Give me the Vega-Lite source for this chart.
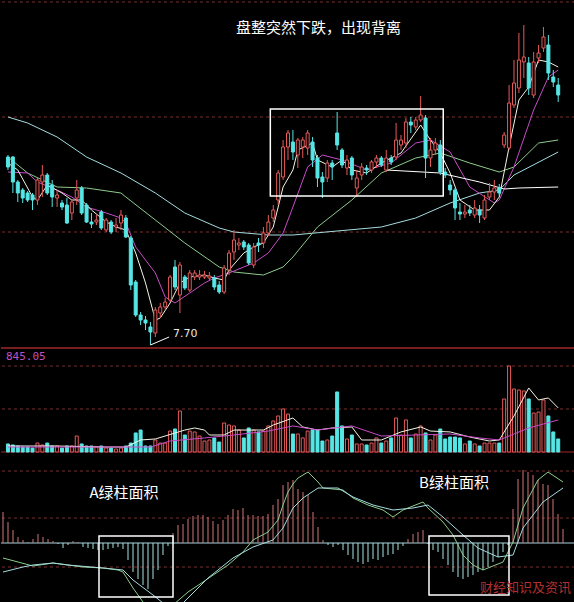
{
"$schema": "https://vega.github.io/schema/vega-lite/v6.json",
"background": "#000000",
"padding": 0,
"spacing": 0,
"bounds": "flush",
"config": {"view": {"stroke": null}, "font": "Noto Sans CJK SC"},
"datasets": {
"k": [
{"i":0,"o":11.46,"c":11.26,"h":11.50,"l":11.20,"v":79,"m":0.31},
{"i":1,"o":11.46,"c":10.96,"h":11.48,"l":10.74,"v":69,"m":0.21},
{"i":2,"o":10.96,"c":10.74,"h":11.00,"l":10.56,"v":59,"m":0.13},
{"i":3,"o":10.80,"c":10.64,"h":10.84,"l":10.54,"v":49,"m":0.06},
{"i":4,"o":10.74,"c":10.60,"h":10.78,"l":10.56,"v":49,"m":0.03},
{"i":5,"o":10.70,"c":10.60,"h":10.74,"l":10.40,"v":39,"m":0.01},
{"i":6,"o":10.60,"c":11.00,"h":11.04,"l":10.50,"v":88,"m":0.04},
{"i":7,"o":10.96,"c":11.10,"h":11.30,"l":10.66,"v":69,"m":0.09},
{"i":8,"o":11.10,"c":10.74,"h":11.14,"l":10.70,"v":88,"m":0.06},
{"i":9,"o":10.90,"c":10.66,"h":11.00,"l":10.46,"v":59,"m":0.04},
{"i":10,"o":10.64,"c":10.70,"h":10.80,"l":10.46,"v":59,"m":0.02},
{"i":11,"o":10.54,"c":10.46,"h":10.60,"l":10.40,"v":39,"m":-0.01},
{"i":12,"o":10.50,"c":10.14,"h":10.64,"l":10.12,"v":59,"m":-0.05},
{"i":13,"o":10.34,"c":10.56,"h":10.60,"l":10.20,"v":59,"m":-0.02},
{"i":14,"o":10.64,"c":10.80,"h":11.00,"l":10.50,"v":157,"m":0.02},
{"i":15,"o":10.84,"c":10.34,"h":10.88,"l":10.30,"v":79,"m":0.01},
{"i":16,"o":10.50,"c":10.16,"h":10.54,"l":10.14,"v":59,"m":-0.04},
{"i":17,"o":10.16,"c":10.12,"h":10.34,"l":10.04,"v":59,"m":-0.05},
{"i":18,"o":10.16,"c":10.20,"h":10.30,"l":10.10,"v":49,"m":-0.06},
{"i":19,"o":10.36,"c":10.04,"h":10.40,"l":10.00,"v":59,"m":-0.07},
{"i":20,"o":10.00,"c":10.20,"h":10.24,"l":9.96,"v":39,"m":-0.07},
{"i":21,"o":10.16,"c":9.96,"h":10.20,"l":9.92,"v":39,"m":-0.06},
{"i":22,"o":10.06,"c":10.10,"h":10.24,"l":9.96,"v":29,"m":-0.05},
{"i":23,"o":10.14,"c":10.30,"h":10.40,"l":10.00,"v":39,"m":-0.04},
{"i":24,"o":10.24,"c":9.86,"h":10.30,"l":9.84,"v":59,"m":-0.06},
{"i":25,"o":9.84,"c":8.90,"h":9.88,"l":8.80,"v":88,"m":-0.17},
{"i":26,"o":8.96,"c":8.30,"h":9.00,"l":8.26,"v":187,"m":-0.29},
{"i":27,"o":8.30,"c":8.20,"h":8.36,"l":8.10,"v":216,"m":-0.36},
{"i":28,"o":8.20,"c":8.14,"h":8.28,"l":8.00,"v":59,"m":-0.42},
{"i":29,"o":8.06,"c":7.96,"h":8.16,"l":7.70,"v":59,"m":-0.46},
{"i":30,"o":7.94,"c":8.40,"h":8.46,"l":7.86,"v":118,"m":-0.36},
{"i":31,"o":8.34,"c":8.46,"h":8.54,"l":8.24,"v":88,"m":-0.27},
{"i":32,"o":8.46,"c":8.56,"h":8.64,"l":8.40,"v":88,"m":-0.12},
{"i":33,"o":8.60,"c":9.06,"h":9.10,"l":8.56,"v":206,"m":-0.03},
{"i":34,"o":9.26,"c":8.86,"h":9.40,"l":8.80,"v":226,"m":0.10},
{"i":35,"o":8.70,"c":9.30,"h":9.36,"l":8.34,"v":403,"m":0.18},
{"i":36,"o":9.06,"c":8.84,"h":9.10,"l":8.80,"v":167,"m":0.19},
{"i":37,"o":8.80,"c":9.14,"h":9.20,"l":8.76,"v":206,"m":0.24},
{"i":38,"o":9.06,"c":9.14,"h":9.20,"l":9.00,"v":197,"m":0.27},
{"i":39,"o":9.06,"c":9.10,"h":9.20,"l":9.00,"v":157,"m":0.28},
{"i":40,"o":9.06,"c":9.10,"h":9.18,"l":9.02,"v":108,"m":0.28},
{"i":41,"o":9.04,"c":9.08,"h":9.16,"l":9.00,"v":118,"m":0.26},
{"i":42,"o":9.04,"c":8.86,"h":9.10,"l":8.80,"v":138,"m":0.22},
{"i":43,"o":8.90,"c":8.76,"h":8.98,"l":8.72,"v":98,"m":0.19},
{"i":44,"o":8.76,"c":9.24,"h":9.30,"l":8.72,"v":285,"m":0.23},
{"i":45,"o":9.20,"c":9.54,"h":9.60,"l":9.10,"v":265,"m":0.28},
{"i":46,"o":9.56,"c":9.80,"h":10.00,"l":9.40,"v":256,"m":0.34},
{"i":47,"o":9.70,"c":9.74,"h":9.84,"l":9.60,"v":216,"m":0.33},
{"i":48,"o":9.76,"c":9.66,"h":9.80,"l":9.60,"v":138,"m":0.35},
{"i":49,"o":9.70,"c":9.34,"h":9.74,"l":9.30,"v":236,"m":0.28},
{"i":50,"o":9.30,"c":9.66,"h":9.74,"l":9.24,"v":216,"m":0.28},
{"i":51,"o":9.74,"c":9.70,"h":9.84,"l":9.56,"v":197,"m":0.27},
{"i":52,"o":9.74,"c":9.94,"h":10.06,"l":9.64,"v":206,"m":0.27},
{"i":53,"o":9.94,"c":10.16,"h":10.30,"l":9.88,"v":256,"m":0.29},
{"i":54,"o":10.24,"c":10.40,"h":10.50,"l":10.16,"v":305,"m":0.38},
{"i":55,"o":10.60,"c":11.14,"h":11.20,"l":10.50,"v":354,"m":0.44},
{"i":56,"o":11.06,"c":11.66,"h":11.80,"l":11.00,"v":423,"m":0.58},
{"i":57,"o":11.66,"c":11.94,"h":12.00,"l":11.40,"v":373,"m":0.61},
{"i":58,"o":11.76,"c":11.56,"h":12.00,"l":11.40,"v":177,"m":0.63},
{"i":59,"o":11.50,"c":11.80,"h":11.84,"l":11.24,"v":177,"m":0.54},
{"i":60,"o":11.66,"c":11.80,"h":11.86,"l":11.44,"v":138,"m":0.51},
{"i":61,"o":11.64,"c":11.94,"h":12.00,"l":11.50,"v":206,"m":0.48},
{"i":62,"o":11.76,"c":11.40,"h":11.86,"l":11.26,"v":216,"m":0.31},
{"i":63,"o":11.44,"c":11.04,"h":11.50,"l":10.86,"v":216,"m":0.16},
{"i":64,"o":11.06,"c":10.96,"h":11.16,"l":10.64,"v":108,"m":0.03},
{"i":65,"o":11.04,"c":11.34,"h":11.40,"l":10.96,"v":118,"m":-0.02},
{"i":66,"o":11.34,"c":11.26,"h":11.40,"l":11.00,"v":157,"m":-0.04},
{"i":67,"o":11.94,"c":11.70,"h":12.36,"l":11.60,"v":590,"m":-0.02},
{"i":68,"o":11.60,"c":11.30,"h":11.64,"l":11.24,"v":256,"m":-0.07},
{"i":69,"o":11.24,"c":11.40,"h":11.50,"l":11.10,"v":128,"m":-0.12},
{"i":70,"o":11.44,"c":11.10,"h":11.48,"l":11.00,"v":167,"m":-0.16},
{"i":71,"o":10.84,"c":11.04,"h":11.20,"l":10.66,"v":79,"m":-0.19},
{"i":72,"o":11.10,"c":11.26,"h":11.34,"l":11.00,"v":79,"m":-0.21},
{"i":73,"o":11.24,"c":11.20,"h":11.30,"l":11.10,"v":69,"m":-0.19},
{"i":74,"o":11.20,"c":11.36,"h":11.40,"l":11.14,"v":88,"m":-0.16},
{"i":75,"o":11.36,"c":11.44,"h":11.50,"l":11.24,"v":138,"m":-0.17},
{"i":76,"o":11.44,"c":11.30,"h":11.48,"l":11.26,"v":88,"m":-0.14},
{"i":77,"o":11.20,"c":11.44,"h":11.60,"l":11.16,"v":108,"m":-0.12},
{"i":78,"o":11.44,"c":11.36,"h":11.50,"l":11.30,"v":138,"m":-0.11},
{"i":79,"o":11.46,"c":11.80,"h":12.14,"l":11.40,"v":334,"m":-0.07},
{"i":80,"o":11.70,"c":11.80,"h":11.90,"l":11.60,"v":167,"m":-0.03},
{"i":81,"o":11.74,"c":12.16,"h":12.24,"l":11.64,"v":315,"m":0.04},
{"i":82,"o":12.16,"c":12.10,"h":12.26,"l":11.94,"v":138,"m":0.09},
{"i":83,"o":12.06,"c":12.20,"h":12.26,"l":12.00,"v":177,"m":0.11},
{"i":84,"o":12.20,"c":12.30,"h":12.68,"l":12.16,"v":256,"m":0.13},
{"i":85,"o":12.24,"c":11.44,"h":12.30,"l":11.04,"v":187,"m":-0.01},
{"i":86,"o":11.44,"c":11.60,"h":11.84,"l":11.26,"v":118,"m":-0.07},
{"i":87,"o":11.60,"c":11.74,"h":11.84,"l":11.50,"v":167,"m":-0.09},
{"i":88,"o":11.70,"c":11.16,"h":11.80,"l":11.10,"v":226,"m":-0.16},
{"i":89,"o":11.16,"c":11.10,"h":11.24,"l":11.04,"v":128,"m":-0.22},
{"i":90,"o":10.90,"c":10.80,"h":11.00,"l":10.70,"v":147,"m":-0.29},
{"i":91,"o":10.80,"c":10.44,"h":10.84,"l":10.20,"v":147,"m":-0.34},
{"i":92,"o":10.36,"c":10.32,"h":10.54,"l":10.20,"v":138,"m":-0.36},
{"i":93,"o":10.32,"c":10.36,"h":10.50,"l":10.24,"v":79,"m":-0.34},
{"i":94,"o":10.40,"c":10.34,"h":10.50,"l":10.28,"v":108,"m":-0.32},
{"i":95,"o":10.30,"c":10.44,"h":10.60,"l":10.24,"v":79,"m":-0.29},
{"i":96,"o":10.40,"c":10.30,"h":10.50,"l":10.14,"v":59,"m":-0.27},
{"i":97,"o":10.24,"c":10.60,"h":10.70,"l":10.20,"v":88,"m":-0.24},
{"i":98,"o":10.66,"c":10.76,"h":10.94,"l":10.60,"v":88,"m":-0.19},
{"i":99,"o":10.76,"c":10.84,"h":11.00,"l":10.60,"v":88,"m":-0.14},
{"i":100,"o":10.84,"c":10.74,"h":10.92,"l":10.68,"v":88,"m":-0.09},
{"i":101,"o":11.70,"c":11.90,"h":11.96,"l":11.64,"v":521,"m":-0.02},
{"i":102,"o":11.64,"c":12.54,"h":12.90,"l":11.60,"v":845.05,"m":0.34},
{"i":103,"o":12.50,"c":12.94,"h":13.40,"l":12.44,"v":619,"m":0.64},
{"i":104,"o":12.84,"c":13.40,"h":13.94,"l":12.74,"v":609,"m":0.73},
{"i":105,"o":13.36,"c":13.46,"h":14.10,"l":13.04,"v":600,"m":0.71},
{"i":106,"o":13.34,"c":12.84,"h":13.46,"l":12.70,"v":521,"m":0.68},
{"i":107,"o":12.70,"c":13.36,"h":13.56,"l":12.64,"v":383,"m":0.63},
{"i":108,"o":13.44,"c":13.54,"h":13.70,"l":13.34,"v":393,"m":0.59},
{"i":109,"o":13.64,"c":13.86,"h":14.06,"l":13.56,"v":511,"m":0.58},
{"i":110,"o":13.70,"c":13.14,"h":13.90,"l":13.00,"v":354,"m":0.44},
{"i":111,"o":13.06,"c":12.96,"h":13.20,"l":12.86,"v":197,"m":0.29},
{"i":112,"o":12.90,"c":12.70,"h":13.04,"l":12.56,"v":128,"m":0.14}
],
"ma": [
{"s":"ma60","i":0,"p":12.26},{"s":"ma60","i":4,"p":12.14},{"s":"ma60","i":10,"p":11.86},{"s":"ma60","i":16,"p":11.46},{"s":"ma60","i":23,"p":11.14},{"s":"ma60","i":30,"p":10.74},{"s":"ma60","i":36,"p":10.34},{"s":"ma60","i":43,"p":10.04},{"s":"ma60","i":46,"p":9.96},{"s":"ma60","i":53,"p":9.90},{"s":"ma60","i":58,"p":9.90},{"s":"ma60","i":76,"p":10.06},{"s":"ma60","i":83,"p":10.24},{"s":"ma60","i":90,"p":10.54},{"s":"ma60","i":96,"p":10.74},{"s":"ma60","i":100,"p":10.80},{"s":"ma60","i":103,"p":11.10},{"s":"ma60","i":112,"p":11.56},
{"s":"ma20","i":0,"p":11.46},{"s":"ma20","i":4,"p":11.14},{"s":"ma20","i":10,"p":10.86},{"s":"ma20","i":16,"p":10.84},{"s":"ma20","i":23,"p":10.74},{"s":"ma20","i":24,"p":10.66},{"s":"ma20","i":30,"p":10.20},{"s":"ma20","i":36,"p":9.74},{"s":"ma20","i":43,"p":9.26},{"s":"ma20","i":46,"p":9.16},{"s":"ma20","i":52,"p":9.10},{"s":"ma20","i":56,"p":9.26},{"s":"ma20","i":58,"p":9.46},{"s":"ma20","i":63,"p":10.06},{"s":"ma20","i":70,"p":10.60},{"s":"ma20","i":76,"p":11.14},{"s":"ma20","i":83,"p":11.44},{"s":"ma20","i":88,"p":11.54},{"s":"ma20","i":94,"p":11.34},{"s":"ma20","i":100,"p":11.16},{"s":"ma20","i":103,"p":11.26},{"s":"ma20","i":108,"p":11.74},{"s":"ma20","i":112,"p":11.80},
{"s":"ma10","i":0,"p":11.16},{"s":"ma10","i":4,"p":11.14},{"s":"ma10","i":6,"p":10.96},{"s":"ma10","i":10,"p":10.80},{"s":"ma10","i":13,"p":10.66},{"s":"ma10","i":16,"p":10.46},{"s":"ma10","i":20,"p":10.34},{"s":"ma10","i":23,"p":10.24},{"s":"ma10","i":24,"p":10.14},{"s":"ma10","i":26,"p":9.66},{"s":"ma10","i":30,"p":9.14},{"s":"ma10","i":32,"p":8.66},{"s":"ma10","i":34,"p":8.54},{"s":"ma10","i":37,"p":8.74},{"s":"ma10","i":40,"p":8.94},{"s":"ma10","i":42,"p":9.04},{"s":"ma10","i":45,"p":9.14},{"s":"ma10","i":48,"p":9.26},{"s":"ma10","i":50,"p":9.34},{"s":"ma10","i":53,"p":9.54},{"s":"ma10","i":56,"p":9.94},{"s":"ma10","i":58,"p":10.46},{"s":"ma10","i":61,"p":11.26},{"s":"ma10","i":64,"p":11.50},{"s":"ma10","i":68,"p":11.40},{"s":"ma10","i":73,"p":11.20},{"s":"ma10","i":78,"p":11.34},{"s":"ma10","i":83,"p":11.74},{"s":"ma10","i":86,"p":11.80},{"s":"ma10","i":90,"p":11.56},{"s":"ma10","i":94,"p":10.86},{"s":"ma10","i":99,"p":10.54},{"s":"ma10","i":100,"p":10.60},{"s":"ma10","i":103,"p":11.26},{"s":"ma10","i":107,"p":12.40},{"s":"ma10","i":110,"p":13.06},{"s":"ma10","i":112,"p":13.20},
{"s":"ma5","i":0,"p":11.34},{"s":"ma5","i":2,"p":11.20},{"s":"ma5","i":5,"p":10.66},{"s":"ma5","i":6,"p":10.60},{"s":"ma5","i":8,"p":10.90},{"s":"ma5","i":11,"p":10.74},{"s":"ma5","i":13,"p":10.60},{"s":"ma5","i":15,"p":10.60},{"s":"ma5","i":17,"p":10.40},{"s":"ma5","i":20,"p":10.16},{"s":"ma5","i":22,"p":10.06},{"s":"ma5","i":24,"p":10.00},{"s":"ma5","i":26,"p":9.54},{"s":"ma5","i":28,"p":8.94},{"s":"ma5","i":30,"p":8.20},{"s":"ma5","i":31,"p":8.24},{"s":"ma5","i":33,"p":8.54},{"s":"ma5","i":35,"p":8.94},{"s":"ma5","i":37,"p":9.06},{"s":"ma5","i":40,"p":9.10},{"s":"ma5","i":42,"p":9.04},{"s":"ma5","i":44,"p":9.00},{"s":"ma5","i":45,"p":9.20},{"s":"ma5","i":48,"p":9.54},{"s":"ma5","i":50,"p":9.66},{"s":"ma5","i":52,"p":9.74},{"s":"ma5","i":54,"p":10.06},{"s":"ma5","i":56,"p":10.86},{"s":"ma5","i":58,"p":11.20},{"s":"ma5","i":59,"p":11.60},{"s":"ma5","i":62,"p":11.74},{"s":"ma5","i":63,"p":11.40},{"s":"ma5","i":66,"p":11.26},{"s":"ma5","i":68,"p":11.40},{"s":"ma5","i":70,"p":11.20},{"s":"ma5","i":73,"p":11.14},{"s":"ma5","i":76,"p":11.34},{"s":"ma5","i":80,"p":11.54},{"s":"ma5","i":84,"p":12.10},{"s":"ma5","i":86,"p":11.80},{"s":"ma5","i":88,"p":11.54},{"s":"ma5","i":90,"p":11.14},{"s":"ma5","i":92,"p":10.60},{"s":"ma5","i":95,"p":10.40},{"s":"ma5","i":98,"p":10.40},{"s":"ma5","i":100,"p":10.66},{"s":"ma5","i":102,"p":11.66},{"s":"ma5","i":104,"p":12.60},{"s":"ma5","i":106,"p":12.86},{"s":"ma5","i":108,"p":13.40},{"s":"ma5","i":110,"p":13.36},{"s":"ma5","i":112,"p":13.26},
{"s":"trend","i":77,"p":11.20},{"s":"trend","i":88,"p":11.14},{"s":"trend","i":96,"p":10.96},{"s":"trend","i":101,"p":10.82},{"s":"trend","i":104,"p":10.84},{"s":"trend","i":112,"p":10.86}
],
"vma": [
{"s":"v5","i":0,"v":59},{"s":"v5","i":10,"v":59},{"s":"v5","i":20,"v":49},{"s":"v5","i":24,"v":49},{"s":"v5","i":27,"v":118},{"s":"v5","i":30,"v":128},{"s":"v5","i":36,"v":216},{"s":"v5","i":38,"v":236},{"s":"v5","i":40,"v":216},{"s":"v5","i":41,"v":167},{"s":"v5","i":44,"v":167},{"s":"v5","i":46,"v":216},{"s":"v5","i":52,"v":216},{"s":"v5","i":54,"v":265},{"s":"v5","i":58,"v":334},{"s":"v5","i":60,"v":246},{"s":"v5","i":63,"v":216},{"s":"v5","i":66,"v":236},{"s":"v5","i":70,"v":246},{"s":"v5","i":72,"v":118},{"s":"v5","i":76,"v":118},{"s":"v5","i":80,"v":197},{"s":"v5","i":84,"v":246},{"s":"v5","i":86,"v":206},{"s":"v5","i":90,"v":197},{"s":"v5","i":94,"v":147},{"s":"v5","i":98,"v":108},{"s":"v5","i":100,"v":118},{"s":"v5","i":103,"v":354},{"s":"v5","i":106,"v":629},{"s":"v5","i":108,"v":511},{"s":"v5","i":110,"v":531},{"s":"v5","i":112,"v":433},
{"s":"v10","i":0,"v":49},{"s":"v10","i":14,"v":49},{"s":"v10","i":29,"v":49},{"s":"v10","i":33,"v":108},{"s":"v10","i":40,"v":138},{"s":"v10","i":46,"v":167},{"s":"v10","i":53,"v":206},{"s":"v10","i":58,"v":256},{"s":"v10","i":63,"v":216},{"s":"v10","i":70,"v":256},{"s":"v10","i":76,"v":157},{"s":"v10","i":83,"v":167},{"s":"v10","i":90,"v":177},{"s":"v10","i":96,"v":138},{"s":"v10","i":100,"v":118},{"s":"v10","i":106,"v":236},{"s":"v10","i":112,"v":315}
],
"macd": [
{"s":"dif","i":0,"m":-0.15},{"s":"dif","i":3,"m":-0.19},{"s":"dif","i":6,"m":-0.23},{"s":"dif","i":10,"m":-0.20},{"s":"dif","i":13,"m":-0.22},{"s":"dif","i":16,"m":-0.24},{"s":"dif","i":20,"m":-0.25},{"s":"dif","i":23,"m":-0.27},{"s":"dif","i":24,"m":-0.29},{"s":"dif","i":26,"m":-0.45},{"s":"dif","i":28,"m":-0.59},{"s":"dif","i":30,"m":-0.69},{"s":"dif","i":32,"m":-0.72},{"s":"dif","i":34,"m":-0.62},{"s":"dif","i":37,"m":-0.49},{"s":"dif","i":40,"m":-0.39},{"s":"dif","i":45,"m":-0.22},{"s":"dif","i":48,"m":-0.09},{"s":"dif","i":50,"m":0.03},{"s":"dif","i":53,"m":0.11},{"s":"dif","i":55,"m":0.23},{"s":"dif","i":56,"m":0.38},{"s":"dif","i":57,"m":0.51},{"s":"dif","i":58,"m":0.59},{"s":"dif","i":59,"m":0.65},{"s":"dif","i":61,"m":0.71},{"s":"dif","i":63,"m":0.61},{"s":"dif","i":64,"m":0.55},{"s":"dif","i":68,"m":0.53},{"s":"dif","i":70,"m":0.45},{"s":"dif","i":73,"m":0.38},{"s":"dif","i":76,"m":0.33},{"s":"dif","i":78,"m":0.26},{"s":"dif","i":80,"m":0.33},{"s":"dif","i":84,"m":0.41},{"s":"dif","i":85,"m":0.35},{"s":"dif","i":88,"m":0.21},{"s":"dif","i":90,"m":0.08},{"s":"dif","i":92,"m":-0.12},{"s":"dif","i":94,"m":-0.22},{"s":"dif","i":96,"m":-0.27},{"s":"dif","i":100,"m":-0.19},{"s":"dif","i":102,"m":0.01},{"s":"dif","i":104,"m":0.35},{"s":"dif","i":107,"m":0.63},{"s":"dif","i":109,"m":0.71},{"s":"dif","i":112,"m":0.61},
{"s":"dea","i":0,"m":-0.29},{"s":"dea","i":4,"m":-0.24},{"s":"dea","i":6,"m":-0.22},{"s":"dea","i":10,"m":-0.20},{"s":"dea","i":13,"m":-0.22},{"s":"dea","i":20,"m":-0.25},{"s":"dea","i":24,"m":-0.27},{"s":"dea","i":26,"m":-0.37},{"s":"dea","i":30,"m":-0.52},{"s":"dea","i":32,"m":-0.60},{"s":"dea","i":34,"m":-0.63},{"s":"dea","i":36,"m":-0.60},{"s":"dea","i":41,"m":-0.35},{"s":"dea","i":46,"m":-0.15},{"s":"dea","i":50,"m":-0.04},{"s":"dea","i":54,"m":0.03},{"s":"dea","i":56,"m":0.15},{"s":"dea","i":57,"m":0.25},{"s":"dea","i":58,"m":0.35},{"s":"dea","i":60,"m":0.45},{"s":"dea","i":63,"m":0.55},{"s":"dea","i":67,"m":0.55},{"s":"dea","i":70,"m":0.46},{"s":"dea","i":74,"m":0.38},{"s":"dea","i":78,"m":0.33},{"s":"dea","i":82,"m":0.35},{"s":"dea","i":85,"m":0.38},{"s":"dea","i":88,"m":0.26},{"s":"dea","i":92,"m":0.08},{"s":"dea","i":95,"m":-0.05},{"s":"dea","i":99,"m":-0.14},{"s":"dea","i":102,"m":-0.12},{"s":"dea","i":104,"m":0.15},{"s":"dea","i":108,"m":0.41},{"s":"dea","i":112,"m":0.55}
]
},
"vconcat": [
{
"width": 574, "height": 348,
"layer": [
{"data": {"values": [{"p":14.56},{"p":12.26},{"p":9.96}]},
 "mark": {"type":"rule","color":"#7a2c2c","strokeDash":[3,3],"strokeWidth":1},
 "encoding": {"y": {"field":"p","type":"quantitative","scale":{"domain":[7.64,14.6],"nice":false,"zero":false},"axis":null}}},
{"data": {"values": [{"p":7.64}]},
 "mark": {"type":"rule","color":"#a02828","strokeWidth":1.5},
 "encoding": {"y": {"field":"p","type":"quantitative","scale":{"domain":[7.64,14.6],"nice":false,"zero":false},"axis":null}}},
{"data": {"name":"ma"},
 "mark": {"type":"line","strokeWidth":1,"clip":true},
 "encoding": {
  "x": {"field":"i","type":"quantitative","scale":{"domain":[-0.4,114.4],"nice":false,"zero":false},"axis":null},
  "y": {"field":"p","type":"quantitative","scale":{"domain":[7.64,14.6],"nice":false,"zero":false},"axis":null},
  "color": {"field":"s","type":"nominal","scale":{"domain":["ma5","ma10","ma20","ma60","trend"],"range":["#f4f4e4","#c84cc8","#8ccc8c","#a4dce0","#ffffff"]},"legend":null}}},
{"data": {"name":"k"},
 "mark": {"type":"rule","strokeWidth":1},
 "encoding": {
  "x": {"field":"i","type":"quantitative","scale":{"domain":[-0.4,114.4],"nice":false,"zero":false},"axis":null},
  "y": {"field":"l","type":"quantitative","scale":{"domain":[7.64,14.6],"nice":false,"zero":false},"axis":null},
  "y2": {"field":"h"},
  "color": {"condition":{"test":"datum.c < datum.o","value":"#56e6e6"},"value":"#e65a5a"}}},
{"data": {"name":"k"},
 "mark": {"type":"bar","width":3,"strokeWidth":1},
 "encoding": {
  "x": {"field":"i","type":"quantitative","scale":{"domain":[-0.4,114.4],"nice":false,"zero":false},"axis":null},
  "y": {"field":"o","type":"quantitative","scale":{"domain":[7.64,14.6],"nice":false,"zero":false},"axis":null},
  "y2": {"field":"c"},
  "fill": {"condition":{"test":"datum.c < datum.o","value":"#56e6e6"},"value":"#000000"},
  "stroke": {"condition":{"test":"datum.c < datum.o","value":"#56e6e6"},"value":"#e65a5a"}}},
{"data": {"values": [{}]},
 "mark": {"type":"rect","fillOpacity":0,"stroke":"#ffffff","strokeWidth":1.5},
 "encoding": {
  "x": {"datum":53.4,"type":"quantitative","scale":{"domain":[-0.4,114.4],"nice":false,"zero":false},"axis":null},
  "x2": {"datum":88.6},
  "y": {"datum":12.42,"type":"quantitative","scale":{"domain":[7.64,14.6],"nice":false,"zero":false},"axis":null},
  "y2": {"datum":10.68}}},
{"data": {"values": [{}]},
 "mark": {"type":"rule","color":"#ffffff","strokeWidth":1},
 "encoding": {
  "x": {"datum":29,"type":"quantitative","scale":{"domain":[-0.4,114.4],"nice":false,"zero":false},"axis":null},
  "x2": {"datum":32.8},
  "y": {"datum":7.70,"type":"quantitative","scale":{"domain":[7.64,14.6],"nice":false,"zero":false},"axis":null},
  "y2": {"datum":7.86}}},
{"data": {"values": [{}]},
 "mark": {"type":"text","text":"7.70","align":"left","baseline":"middle","color":"#e8e8e8","fontSize":11,"font":"DejaVu Sans"},
 "encoding": {
  "x": {"datum":33.6,"type":"quantitative","scale":{"domain":[-0.4,114.4],"nice":false,"zero":false},"axis":null},
  "y": {"datum":7.92,"type":"quantitative","scale":{"domain":[7.64,14.6],"nice":false,"zero":false},"axis":null}}},
{"data": {"values": [{}]},
 "mark": {"type":"text","text":"盘整突然下跌，出现背离","align":"center","baseline":"middle","color":"#ffffff","fontSize":15,"font":"Noto Sans CJK SC"},
 "encoding": {
  "x": {"datum":63.2,"type":"quantitative","scale":{"domain":[-0.4,114.4],"nice":false,"zero":false},"axis":null},
  "y": {"datum":14.04,"type":"quantitative","scale":{"domain":[7.64,14.6],"nice":false,"zero":false},"axis":null}}}
]
},
{
"width": 574, "height": 107,
"layer": [
{"data": {"values": [{"v":845.05},{"v":422.5}]},
 "mark": {"type":"rule","color":"#7a2c2c","strokeDash":[3,3],"strokeWidth":1},
 "encoding": {"y": {"field":"v","type":"quantitative","scale":{"domain":[-29.5,1021.9],"nice":false,"zero":false},"axis":null}}},
{"data": {"values": [{"v":0}]},
 "mark": {"type":"rule","color":"#a02828","strokeWidth":1},
 "encoding": {"y": {"field":"v","type":"quantitative","scale":{"domain":[-29.5,1021.9],"nice":false,"zero":false},"axis":null}}},
{"data": {"name":"k"},
 "mark": {"type":"bar","width":3,"strokeWidth":1},
 "encoding": {
  "x": {"field":"i","type":"quantitative","scale":{"domain":[-0.4,114.4],"nice":false,"zero":false},"axis":null},
  "y": {"field":"v","type":"quantitative","scale":{"domain":[-29.5,1021.9],"nice":false,"zero":false},"axis":null},
  "y2": {"datum":0},
  "fill": {"condition":{"test":"datum.c < datum.o","value":"#56e6e6"},"value":"#000000"},
  "stroke": {"condition":{"test":"datum.c < datum.o","value":"#56e6e6"},"value":"#e65a5a"}}},
{"data": {"name":"vma"},
 "mark": {"type":"line","strokeWidth":1,"clip":true},
 "encoding": {
  "x": {"field":"i","type":"quantitative","scale":{"domain":[-0.4,114.4],"nice":false,"zero":false},"axis":null},
  "y": {"field":"v","type":"quantitative","scale":{"domain":[-29.5,1021.9],"nice":false,"zero":false},"axis":null},
  "color": {"field":"s","type":"nominal","scale":{"domain":["v5","v10"],"range":["#f4f4e4","#c84cc8"]},"legend":null}}},
{"data": {"values": [{}]},
 "mark": {"type":"text","text":"845.05","align":"left","baseline":"middle","color":"#c050c0","fontSize":11,"font":"DejaVu Sans Mono"},
 "encoding": {
  "x": {"datum":-0.4,"type":"quantitative","scale":{"domain":[-0.4,114.4],"nice":false,"zero":false},"axis":null},
  "y": {"datum":933,"type":"quantitative","scale":{"domain":[-29.5,1021.9],"nice":false,"zero":false},"axis":null}}}
]
},
{
"width": 574, "height": 147,
"layer": [
{"data": {"values": [{"m":0.72},{"m":0.25},{"m":-0.24}]},
 "mark": {"type":"rule","color":"#7a2c2c","strokeDash":[3,3],"strokeWidth":1},
 "encoding": {"y": {"field":"m","type":"quantitative","scale":{"domain":[-0.59,0.88],"nice":false,"zero":false},"axis":null}}},
{"data": {"values": [{"m":0}]},
 "mark": {"type":"rule","color":"#a8d4dc","strokeWidth":1},
 "encoding": {"y": {"field":"m","type":"quantitative","scale":{"domain":[-0.59,0.88],"nice":false,"zero":false},"axis":null}}},
{"data": {"name":"k"},
 "mark": {"type":"rule","strokeWidth":1},
 "encoding": {
  "x": {"field":"i","type":"quantitative","scale":{"domain":[-0.4,114.4],"nice":false,"zero":false},"axis":null},
  "y": {"field":"m","type":"quantitative","scale":{"domain":[-0.59,0.88],"nice":false,"zero":false},"axis":null},
  "y2": {"datum":0},
  "color": {"condition":{"test":"datum.m < 0","value":"#a8e4e4"},"value":"#d07878"}}},
{"data": {"name":"macd"},
 "mark": {"type":"line","strokeWidth":1,"clip":true},
 "encoding": {
  "x": {"field":"i","type":"quantitative","scale":{"domain":[-0.4,114.4],"nice":false,"zero":false},"axis":null},
  "y": {"field":"m","type":"quantitative","scale":{"domain":[-0.59,0.88],"nice":false,"zero":false},"axis":null},
  "color": {"field":"s","type":"nominal","scale":{"domain":["dif","dea"],"range":["#ffffff","#f0f0dc"]},"legend":null}}},
{"data": {"values": [{}]},
 "mark": {"type":"rect","fillOpacity":0,"stroke":"#ffffff","strokeWidth":1.5},
 "encoding": {
  "x": {"datum":19.2,"type":"quantitative","scale":{"domain":[-0.4,114.4],"nice":false,"zero":false},"axis":null},
  "x2": {"datum":34},
  "y": {"datum":0.07,"type":"quantitative","scale":{"domain":[-0.59,0.88],"nice":false,"zero":false},"axis":null},
  "y2": {"datum":-0.54}}},
{"data": {"values": [{}]},
 "mark": {"type":"rect","fillOpacity":0,"stroke":"#ffffff","strokeWidth":1.5},
 "encoding": {
  "x": {"datum":85.2,"type":"quantitative","scale":{"domain":[-0.4,114.4],"nice":false,"zero":false},"axis":null},
  "x2": {"datum":101.2},
  "y": {"datum":0.07,"type":"quantitative","scale":{"domain":[-0.59,0.88],"nice":false,"zero":false},"axis":null},
  "y2": {"datum":-0.52}}},
{"data": {"values": [{}]},
 "mark": {"type":"text","text":"A绿柱面积","align":"center","baseline":"middle","color":"#ffffff","fontSize":15,"font":"Noto Sans CJK SC"},
 "encoding": {
  "x": {"datum":24.2,"type":"quantitative","scale":{"domain":[-0.4,114.4],"nice":false,"zero":false},"axis":null},
  "y": {"datum":0.50,"type":"quantitative","scale":{"domain":[-0.59,0.88],"nice":false,"zero":false},"axis":null}}},
{"data": {"values": [{}]},
 "mark": {"type":"text","text":"B绿柱面积","align":"center","baseline":"middle","color":"#ffffff","fontSize":15,"font":"Noto Sans CJK SC"},
 "encoding": {
  "x": {"datum":90.2,"type":"quantitative","scale":{"domain":[-0.4,114.4],"nice":false,"zero":false},"axis":null},
  "y": {"datum":0.60,"type":"quantitative","scale":{"domain":[-0.59,0.88],"nice":false,"zero":false},"axis":null}}},
{"data": {"values": [{}]},
 "mark": {"type":"text","text":"财经知识及资讯","align":"left","baseline":"middle","color":"#b03030","fontSize":13,"font":"Noto Sans CJK SC"},
 "encoding": {
  "x": {"datum":95.4,"type":"quantitative","scale":{"domain":[-0.4,114.4],"nice":false,"zero":false},"axis":null},
  "y": {"datum":-0.45,"type":"quantitative","scale":{"domain":[-0.59,0.88],"nice":false,"zero":false},"axis":null}}}
]
}
]
}
